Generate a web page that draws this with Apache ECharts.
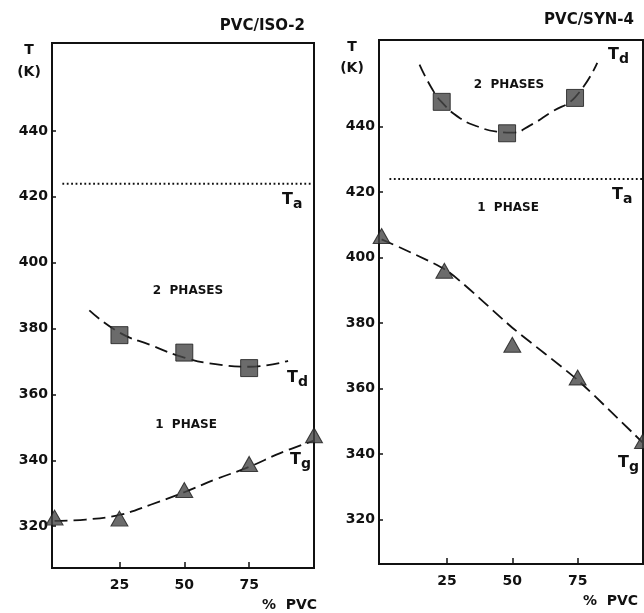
<!DOCTYPE html>
<html>
<head>
<meta charset="utf-8">
<script src="https://cdn.jsdelivr.net/npm/echarts@6/dist/echarts.min.js"></script>
<style>
html,body{margin:0;padding:0;background:#fff;}
#chart{width:644px;height:613px;}
</style>
</head>
<body>
<div id="chart"></div>
<script>
// ---------- data: left panel PVC/ISO-2 ----------
const isoTitle = 'PVC/ISO-2';
const isoTgX = [0, 25, 50, 75, 100];
const isoTg = [322.6, 322.3, 331, 338.9, 347.6];
const isoTgCurveX = [0, 12, 25, 37, 50, 62, 75, 87, 100];
const isoTgCurve = [321.6, 322, 323.4, 326.5, 330.3, 334.2, 338, 342.2, 346];
const isoTdX = [25, 50, 75];
const isoTd = [378, 372.7, 368];
const isoTdCurveX = [13.4, 25, 37, 50, 62, 75, 90];
const isoTdCurve = [385.5, 378.8, 375, 371.2, 369.2, 368.4, 370.2];
const isoTa = 424;

// ---------- data: right panel PVC/SYN-4 ----------
const synTitle = 'PVC/SYN-4';
const synTgX = [0, 24, 50, 75, 100];
const synTg = [406.6, 396, 373.4, 363.4, 344];
const synTgCurveX = [0, 25, 50, 75, 100];
const synTgCurve = [405.6, 396, 378.6, 362.6, 343.4];
const synTdX = [23, 48, 74];
const synTd = [447.6, 438, 448.8];
const synTdCurveX = [14.5, 19, 23, 30, 37, 44, 50, 57, 65, 74, 82.5];
const synTdCurve = [459, 452, 447.5, 442.6, 440, 438.5, 438.2, 440.5, 444.5, 449, 459.5];
const synTa = 424;

// ---------- axis ticks ----------
const yTicks = [320, 340, 360, 380, 400, 420, 440];
const xTicks = [25, 50, 75];

const zip = (xs, ys) => xs.map((x, i) => [x, ys[i]]);

const FONT = '"DejaVu Sans", "Liberation Sans", sans-serif';
const INK = '#111';

function xAxisFor(i) {
  return {
    type: 'value', gridIndex: i, min: -1, max: 100,
    axisLine: { show: true, onZero: false, lineStyle: { color: INK, width: 2 } },
    axisTick: { show: true, inside: true, length: 6, customValues: xTicks, lineStyle: { color: INK, width: 1.5 } },
    axisLabel: { customValues: xTicks, color: INK, fontFamily: FONT, fontWeight: 'bold', fontSize: 14, margin: 10 },
    splitLine: { show: false }
  };
}
function yAxisFor(i, min, max) {
  return {
    type: 'value', gridIndex: i, min: min, max: max,
    axisLine: { show: true, onZero: false, lineStyle: { color: INK, width: 2 } },
    axisTick: { show: true, inside: true, length: 4, customValues: yTicks, lineStyle: { color: INK, width: 1.5 } },
    axisLabel: { customValues: yTicks, color: INK, fontFamily: FONT, fontWeight: 'bold', fontSize: 14, margin: 4 },
    splitLine: { show: false }
  };
}

const dashLine = { color: INK, width: 1.8, type: [13, 6] };
const dotLine = { color: INK, width: 2, type: [1.8, 2.6] };
const markFill = { color: '#464646', borderColor: '#1a1a1a', borderWidth: 1 };

function panelSeries(i, d) {
  return [
    { type: 'line', xAxisIndex: i, yAxisIndex: i, data: zip(d.tgCX, d.tgC), smooth: d.tgSmooth, showSymbol: false, symbol: 'none', lineStyle: dashLine, z: 2 },
    { type: 'line', xAxisIndex: i, yAxisIndex: i, data: zip(d.tdCX, d.tdC), smooth: 0.5, showSymbol: false, symbol: 'none', lineStyle: dashLine, z: 2 },
    { type: 'line', xAxisIndex: i, yAxisIndex: i, data: [[3, d.ta], [100, d.ta]], showSymbol: false, symbol: 'none', lineStyle: dotLine, z: 2 },
    { type: 'scatter', xAxisIndex: i, yAxisIndex: i, data: zip(d.tgX, d.tg), symbol: 'triangle', symbolSize: [17, 15], itemStyle: markFill, z: 5 },
    { type: 'scatter', xAxisIndex: i, yAxisIndex: i, data: zip(d.tdX, d.td), symbol: 'rect', symbolSize: [17, 17], itemStyle: markFill, z: 5 }
  ];
}

function txt(x, y, text, opts) {
  return {
    type: 'text', x: x, y: y, z: 10,
    style: Object.assign({ text: text, fill: INK, fontFamily: FONT, fontWeight: 'bold', fontSize: 13, align: 'center', verticalAlign: 'middle' }, opts || {})
  };
}
function sub(x, y, main, s) {
  return {
    type: 'text', x: x, y: y, z: 10,
    style: {
      text: '{t|' + main + '}{s|' + s + '}', fill: INK, align: 'left', verticalAlign: 'middle',
      rich: {
        t: { fontFamily: FONT, fontWeight: 'bold', fontSize: 16, fill: INK, lineHeight: 18 },
        s: { fontFamily: FONT, fontWeight: 'bold', fontSize: 14, fill: INK, padding: [9, 0, 0, 0], lineHeight: 18 }
      }
    }
  };
}

const chart = echarts.init(document.getElementById('chart'), null, { renderer: 'canvas' });
chart.setOption({
  backgroundColor: '#fff',
  animation: false,
  grid: [
    { left: 52, top: 43, width: 262, height: 525, show: true, borderColor: INK, borderWidth: 2, backgroundColor: 'transparent' },
    { left: 379, top: 40, width: 264, height: 524, show: true, borderColor: INK, borderWidth: 2, backgroundColor: 'transparent' }
  ],
  xAxis: [xAxisFor(0), xAxisFor(1)],
  yAxis: [yAxisFor(0, 307.3, 466.7), yAxisFor(1, 306.4, 466.5)],
  series: [].concat(
    panelSeries(0, { tgCX: isoTgCurveX, tgC: isoTgCurve, tgSmooth: 0.4, tdCX: isoTdCurveX, tdC: isoTdCurve, ta: isoTa, tgX: isoTgX, tg: isoTg, tdX: isoTdX, td: isoTd }),
    panelSeries(1, { tgCX: synTgCurveX, tgC: synTgCurve, tgSmooth: 0.2, tdCX: synTdCurveX, tdC: synTdCurve, ta: synTa, tgX: synTgX, tg: synTg, tdX: synTdX, td: synTd })
  ),
  graphic: [
    txt(305, 26, isoTitle, { align: 'right', fontSize: 15 }),
    txt(29, 50, 'T', { fontSize: 14 }),
    txt(29, 72, '(K)', { fontSize: 14 }),
    txt(188, 291, '2  PHASES', { fontSize: 12 }),
    txt(186, 425, '1  PHASE', { fontSize: 12 }),
    sub(282, 200, 'T', 'a'),
    sub(287, 378, 'T', 'd'),
    sub(290, 460, 'T', 'g'),
    txt(262, 605, '%  PVC', { align: 'left', fontSize: 14 }),

    txt(634, 20, synTitle, { align: 'right', fontSize: 15 }),
    txt(352, 47, 'T', { fontSize: 14 }),
    txt(352, 68, '(K)', { fontSize: 14 }),
    txt(509, 85, '2  PHASES', { fontSize: 12 }),
    txt(508, 208, '1  PHASE', { fontSize: 12 }),
    sub(608, 55, 'T', 'd'),
    sub(612, 195, 'T', 'a'),
    sub(618, 463, 'T', 'g'),
    txt(583, 601, '%  PVC', { align: 'left', fontSize: 14 })
  ]
});
</script>
</body>
</html>
